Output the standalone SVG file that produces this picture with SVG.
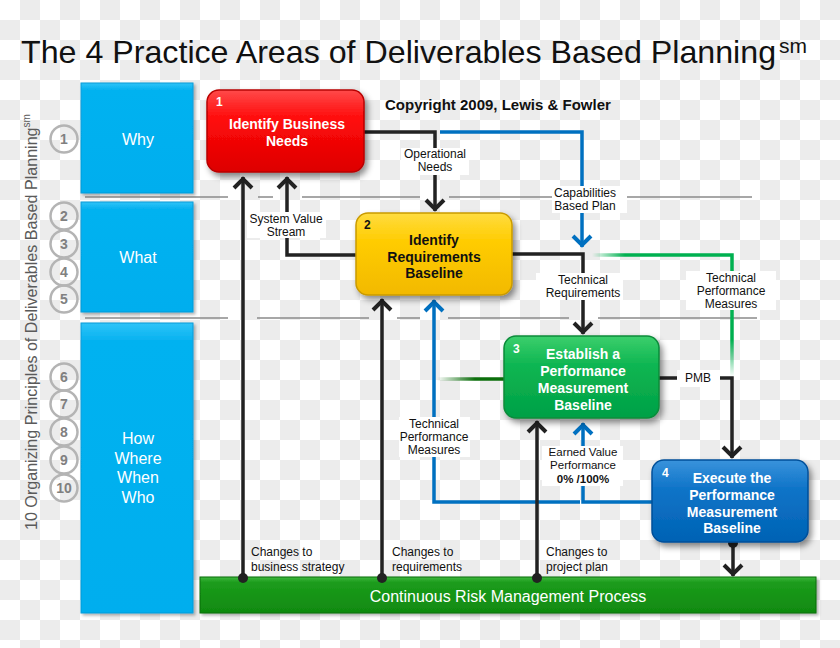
<svg xmlns="http://www.w3.org/2000/svg" width="840" height="648" viewBox="0 0 840 648">
<defs>
<pattern id="chk" x="0" y="0" width="40" height="40" patternUnits="userSpaceOnUse">
<rect width="40" height="40" fill="#ffffff"/>
<rect x="20" y="0" width="20" height="20" fill="#ececec"/>
<rect x="0" y="20" width="20" height="20" fill="#ececec"/>
</pattern>
<linearGradient id="gRed" x1="0" y1="0" x2="0" y2="1"><stop offset="0" stop-color="#ff4a4a"/><stop offset="0.35" stop-color="#ff0a0a"/><stop offset="1" stop-color="#dd0000"/></linearGradient>
<linearGradient id="gYel" x1="0" y1="0" x2="0" y2="1"><stop offset="0" stop-color="#ffdc40"/><stop offset="0.35" stop-color="#ffcc00"/><stop offset="1" stop-color="#f2b900"/></linearGradient>
<linearGradient id="gGrn" x1="0" y1="0" x2="0" y2="1"><stop offset="0" stop-color="#3ccf6c"/><stop offset="0.35" stop-color="#0fb652"/><stop offset="1" stop-color="#00a046"/></linearGradient>
<linearGradient id="gBlu" x1="0" y1="0" x2="0" y2="1"><stop offset="0" stop-color="#3a93dc"/><stop offset="0.35" stop-color="#0f74c8"/><stop offset="1" stop-color="#0062b4"/></linearGradient>
<linearGradient id="gCyan" x1="0" y1="0" x2="0" y2="1"><stop offset="0" stop-color="#30c4f8"/><stop offset="0.06" stop-color="#06b2f0"/><stop offset="1" stop-color="#00aeee"/></linearGradient>
<linearGradient id="gBar" x1="0" y1="0" x2="0" y2="1"><stop offset="0" stop-color="#3fb83f"/><stop offset="0.15" stop-color="#1c9c1c"/><stop offset="1" stop-color="#108a10"/></linearGradient>
<linearGradient id="fBlueTop" gradientUnits="userSpaceOnUse" x1="440" y1="0" x2="488" y2="0"><stop offset="0" stop-color="#0070c0" stop-opacity="0"/><stop offset="1" stop-color="#0070c0"/></linearGradient>
<linearGradient id="fBlueBot" gradientUnits="userSpaceOnUse" x1="552" y1="0" x2="580" y2="0"><stop offset="0" stop-color="#0070c0"/><stop offset="1" stop-color="#0070c0" stop-opacity="0.05"/></linearGradient>
<linearGradient id="fGrnH" gradientUnits="userSpaceOnUse" x1="592" y1="0" x2="625" y2="0"><stop offset="0" stop-color="#00b050" stop-opacity="0"/><stop offset="1" stop-color="#00b050"/></linearGradient>
<linearGradient id="fGrnV" gradientUnits="userSpaceOnUse" x1="0" y1="340" x2="0" y2="377"><stop offset="0" stop-color="#00b050"/><stop offset="1" stop-color="#00b050" stop-opacity="0"/></linearGradient>
<linearGradient id="fGrnL" gradientUnits="userSpaceOnUse" x1="437" y1="0" x2="475" y2="0"><stop offset="0" stop-color="#0b6e0b" stop-opacity="0"/><stop offset="1" stop-color="#0b6e0b"/></linearGradient>
<filter id="sh" x="-10%" y="-10%" width="125%" height="135%"><feDropShadow dx="3" dy="4" stdDeviation="3" flood-color="#000" flood-opacity="0.45"/></filter>
<filter id="sh2" x="-10%" y="-10%" width="125%" height="125%"><feDropShadow dx="2" dy="2" stdDeviation="1.5" flood-color="#000" flood-opacity="0.3"/></filter>
<marker id="ak" viewBox="-14 -12 18 24" markerWidth="18" markerHeight="24" refX="0" refY="0" orient="auto" markerUnits="userSpaceOnUse"><path d="M-11,-9 L-2,0 L-11,9" fill="none" stroke="#222" stroke-width="4"/></marker>
<marker id="ab" viewBox="-14 -12 18 24" markerWidth="18" markerHeight="24" refX="0" refY="0" orient="auto" markerUnits="userSpaceOnUse"><path d="M-11,-9 L-2,0 L-11,9" fill="none" stroke="#0070c0" stroke-width="4"/></marker>
<style>
text{font-family:"Liberation Sans",Arial,sans-serif}
.sep{stroke:#8a8a8a;stroke-width:1.6}
.cy{fill:url(#gCyan);stroke:#0a9ad8;stroke-width:1;filter:url(#sh2)}
.cyt{fill:#ffffff;font-size:16px;text-anchor:middle}
.circ{fill:none;stroke:#b4b4b4;stroke-width:2.5}
.cn{fill:#808080;font-size:14px;font-weight:bold;text-anchor:middle}
.nt{font-size:14px;font-weight:bold;text-anchor:middle}
.num{font-size:12px;font-weight:bold}
.bk{fill:none;stroke:#222;stroke-width:3.5;marker-end:url(#ak)}
.bl{fill:none;stroke:#0070c0;stroke-width:3.5}
.lb{fill:#ffffff}
.lt{font-size:12px;fill:#111;text-anchor:middle}
.lts{font-size:11.5px;fill:#111;text-anchor:middle}
.ltl{font-size:12px;fill:#111}
.dot{fill:#222}
</style>
</defs>
<rect width="840" height="648" fill="url(#chk)"/>

<!-- separators -->
<g id="separators">
<path class="sep" d="M85,197 H228 M258,197 H273 M302,197 H420 M449,197 H552 M627,197 H752"/>
<path class="sep" d="M85,318 H228 M257,318 H369 M397,318 H420 M448,318 H569 M598,318 H757"/>
</g>

<!-- title -->
<text x="21" y="63" font-size="32.2" fill="#111">The 4 Practice Areas of Deliverables Based Planning</text>
<text x="779" y="53" font-size="21" fill="#111">sm</text>
<text x="385" y="110" font-size="15" font-weight="bold" fill="#111">Copyright 2009, Lewis &amp; Fowler</text>

<!-- vertical principles text -->
<text transform="translate(37,530) rotate(-90)" font-size="16.1" fill="#5a5a5a">10 Organizing Principles of Deliverables Based Planning<tspan font-size="10" dy="-7">sm</tspan></text>

<!-- circles -->
<g id="principles">
<circle class="circ" cx="64" cy="139" r="13.5"/><text class="cn" x="64" y="144">1</text>
<circle class="circ" cx="64" cy="216" r="13.5"/><text class="cn" x="64" y="221">2</text>
<circle class="circ" cx="64" cy="244" r="13.5"/><text class="cn" x="64" y="249">3</text>
<circle class="circ" cx="64" cy="272" r="13.5"/><text class="cn" x="64" y="277">4</text>
<circle class="circ" cx="64" cy="299" r="13.5"/><text class="cn" x="64" y="304">5</text>
<circle class="circ" cx="64" cy="377" r="13.5"/><text class="cn" x="64" y="382">6</text>
<circle class="circ" cx="64" cy="404" r="13.5"/><text class="cn" x="64" y="409">7</text>
<circle class="circ" cx="64" cy="432" r="13.5"/><text class="cn" x="64" y="437">8</text>
<circle class="circ" cx="64" cy="460" r="13.5"/><text class="cn" x="64" y="465">9</text>
<circle class="circ" cx="64" cy="488" r="13.5"/><text class="cn" x="64" y="493">10</text>
</g>

<!-- level boxes -->
<g id="why"><rect class="cy" x="81" y="83" width="112" height="110"/><text class="cyt" x="138" y="145">Why</text></g>
<g id="what"><rect class="cy" x="81" y="202" width="112" height="110"/><text class="cyt" x="138" y="263">What</text></g>
<g id="how"><rect class="cy" x="81" y="323" width="112" height="290"/>
<text class="cyt" x="138" y="444">How</text><text class="cyt" x="138" y="464">Where</text><text class="cyt" x="138" y="483">When</text><text class="cyt" x="138" y="503">Who</text></g>

<!-- risk bar -->
<g id="risk"><rect x="200" y="577" width="616" height="36" fill="url(#gBar)" stroke="#0c6c0c" stroke-width="1" filter="url(#sh2)"/>
<text x="508" y="602" font-size="16" fill="#ffffff" text-anchor="middle">Continuous Risk Management Process</text></g>

<!-- connectors -->
<g id="connectors">
<path class="bl" d="M440,132 H582 V247" stroke="url(#fBlueTop)" marker-end="url(#ab)"/>
<path class="bl" d="M580,502 H434 V300" stroke="url(#fBlueBot)" marker-end="url(#ab)"/>
<path class="bl" d="M652,502 H583 V423" marker-end="url(#ab)"/>
<path d="M592,255 H732 V300" fill="none" stroke="url(#fGrnH)" stroke-width="3.5"/>
<path d="M732,298 V377" fill="none" stroke="url(#fGrnV)" stroke-width="3.5"/>
<path d="M504,379 H437" fill="none" stroke="url(#fGrnL)" stroke-width="3.5"/>
<path class="bk" d="M364,132 H435 V211"/>
<path class="bk" d="M356,255 H287 V177"/>
<path class="bk" d="M512,254 H583 V334"/>
<path class="bk" d="M659,378 H732 V458"/>
<path class="bk" d="M243,578 V177"/>
<path class="bk" d="M382,578 V299"/>
<path class="bk" d="M537,578 V421"/>
<path class="bk" d="M733,543 V576"/>
<circle class="dot" cx="243" cy="578" r="5"/>
<circle class="dot" cx="382" cy="578" r="5"/>
<circle class="dot" cx="537" cy="578" r="5"/>
<circle class="dot" cx="733" cy="543" r="5"/>

<!-- labels -->
<rect class="lb" x="401" y="148" width="68" height="27"/>
<text class="lt" x="435" y="158">Operational</text><text class="lt" x="435" y="171">Needs</text>
<rect class="lb" x="247" y="212" width="79" height="26"/>
<text class="lt" x="286" y="223">System Value</text><text class="lt" x="286" y="236">Stream</text>
<rect class="lb" x="552" y="186" width="75" height="27"/>
<text class="lt" x="585" y="197">Capabilities</text><text class="lt" x="585" y="210">Based Plan</text>
<rect class="lb" x="536" y="273" width="87" height="27"/>
<text class="lt" x="583" y="284">Technical</text><text class="lt" x="583" y="297">Requirements</text>
<rect class="lb" x="686" y="271" width="90" height="39"/>
<text class="lt" x="731" y="282">Technical</text><text class="lt" x="731" y="295">Performance</text><text class="lt" x="731" y="308">Measures</text>
<rect class="lb" x="677" y="370" width="43" height="17"/>
<text class="lt" x="698" y="382">PMB</text>
<rect class="lb" x="399" y="417" width="71" height="40"/>
<text class="lt" x="434" y="428">Technical</text><text class="lt" x="434" y="441">Performance</text><text class="lt" x="434" y="454">Measures</text>
<rect class="lb" x="542" y="446" width="81" height="40"/>
<text class="lts" x="583" y="456">Earned Value</text><text class="lts" x="583" y="469">Performance</text><text class="lts" x="583" y="482.5" font-weight="bold">0% /100%</text>
<text class="ltl" x="251" y="556">Changes to</text><text class="ltl" x="251" y="571">business strategy</text>
<text class="ltl" x="392" y="556">Changes to</text><text class="ltl" x="392" y="571">requirements</text>
<text class="ltl" x="546" y="556">Changes to</text><text class="ltl" x="546" y="571">project plan</text>
</g>

<!-- nodes -->
<g id="node1">
<rect x="207" y="90" width="157" height="82" rx="12" fill="url(#gRed)" stroke="#b80000" stroke-width="1.5" filter="url(#sh)"/>
<text class="num" x="216" y="106" fill="#ffffff">1</text>
<text class="nt" x="287" y="129" fill="#ffffff">Identify Business</text>
<text class="nt" x="287" y="146" fill="#ffffff">Needs</text>
</g>
<g id="node2">
<rect x="356" y="213" width="156" height="82" rx="12" fill="url(#gYel)" stroke="#c99a00" stroke-width="1.5" filter="url(#sh)"/>
<text class="num" x="364" y="229" fill="#111">2</text>
<text class="nt" x="434" y="245" fill="#111">Identify</text>
<text class="nt" x="434" y="262" fill="#111">Requirements</text>
<text class="nt" x="434" y="278" fill="#111">Baseline</text>
</g>
<g id="node3">
<rect x="504" y="336" width="155" height="82" rx="12" fill="url(#gGrn)" stroke="#0a8a3a" stroke-width="1.5" filter="url(#sh)"/>
<text class="num" x="513" y="353" fill="#ffffff">3</text>
<text class="nt" x="583" y="359" fill="#ffffff">Establish a</text>
<text class="nt" x="583" y="376" fill="#ffffff">Performance</text>
<text class="nt" x="583" y="393" fill="#ffffff">Measurement</text>
<text class="nt" x="583" y="410" fill="#ffffff">Baseline</text>
</g>
<g id="node4">
<rect x="652" y="460" width="156" height="82" rx="12" fill="url(#gBlu)" stroke="#004f99" stroke-width="1.5" filter="url(#sh)"/>
<text class="num" x="662" y="477" fill="#ffffff">4</text>
<text class="nt" x="732" y="483" fill="#ffffff">Execute the</text>
<text class="nt" x="732" y="500" fill="#ffffff">Performance</text>
<text class="nt" x="732" y="517" fill="#ffffff">Measurement</text>
<text class="nt" x="732" y="533" fill="#ffffff">Baseline</text>
</g>
</svg>
